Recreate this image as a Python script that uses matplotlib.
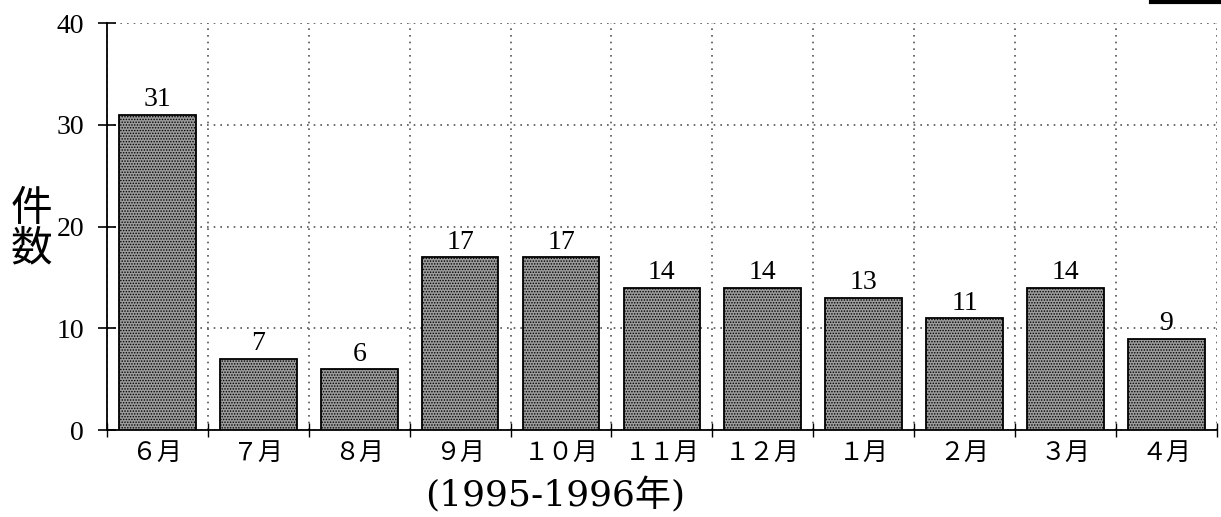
import matplotlib
matplotlib.use("Agg")
import matplotlib.pyplot as plt
from matplotlib.lines import Line2D

months = ["６月", "７月", "８月", "９月", "１０月", "１１月", "１２月", "１月", "２月", "３月", "４月"]
counts = [31, 7, 6, 17, 17, 14, 14, 13, 11, 14, 9]
yticks = [0, 10, 20, 30, 40]
xlabel = "(1995-1996年)"
ylabel = "件\n数"

plt.rcParams['font.family'] = ['Liberation Serif', 'Noto Sans CJK JP', 'DejaVu Sans']
plt.rcParams['hatch.color'] = '#333333'
plt.rcParams['hatch.linewidth'] = 0.7

fig = plt.figure(figsize=(12.21, 5.17), dpi=100)
ax = fig.add_axes([0.0876, 0.168, 0.909, 0.787])

x = list(range(len(months)))
bars = ax.bar(x, counts, width=0.76, color='#9c9c9c', edgecolor='black',
              linewidth=1.3, hatch='......', zorder=3)
for xi, v in zip(x, counts):
    ax.text(xi, v + 0.25, str(v), ha='center', va='bottom', fontsize=20,
            family='Liberation Serif', zorder=4)

ax.set_xlim(-0.5, len(months) - 0.5)
ax.set_ylim(0, 40)
ax.set_yticks(yticks)
ax.set_yticklabels([str(t) for t in yticks], fontsize=20, family='Liberation Serif')

# boundary ticks / vertical grid
bounds = [i - 0.5 for i in range(len(months) + 1)]
ax.set_xticks(bounds)
ax.set_xticklabels([''] * len(bounds))
ax.set_xticks(x, minor=True)
ax.set_xticklabels(months, minor=True, fontsize=18, family=['Noto Sans CJK JP'])
ax.tick_params(axis='x', which='minor', length=0, pad=7)
ax.tick_params(axis='x', which='major', direction='inout', length=10, width=1)
ax.tick_params(axis='y', direction='inout', length=13, width=1.2, pad=10)

ax.grid(True, which='major', linestyle=(0, (1, 3)), color='#555555', linewidth=1.2, zorder=0)

for s in ['top', 'right']:
    ax.spines[s].set_visible(False)
ax.spines['left'].set_linewidth(1.3)
ax.spines['bottom'].set_linewidth(1.3)

fig.text(0.455, 0.006, xlabel, fontsize=26, family=['DejaVu Serif', 'Noto Sans CJK JP'],
         ha='center', va='bottom')
fig.text(0.026, 0.557, ylabel, fontsize=30, family=['Noto Sans CJK JP'],
         ha='center', va='center', linespacing=0.95)

fig.add_artist(Line2D([0.943, 1.0], [0.996, 0.996], transform=fig.transFigure,
                      color='black', linewidth=3))

fig.savefig('out.png', dpi=100)
